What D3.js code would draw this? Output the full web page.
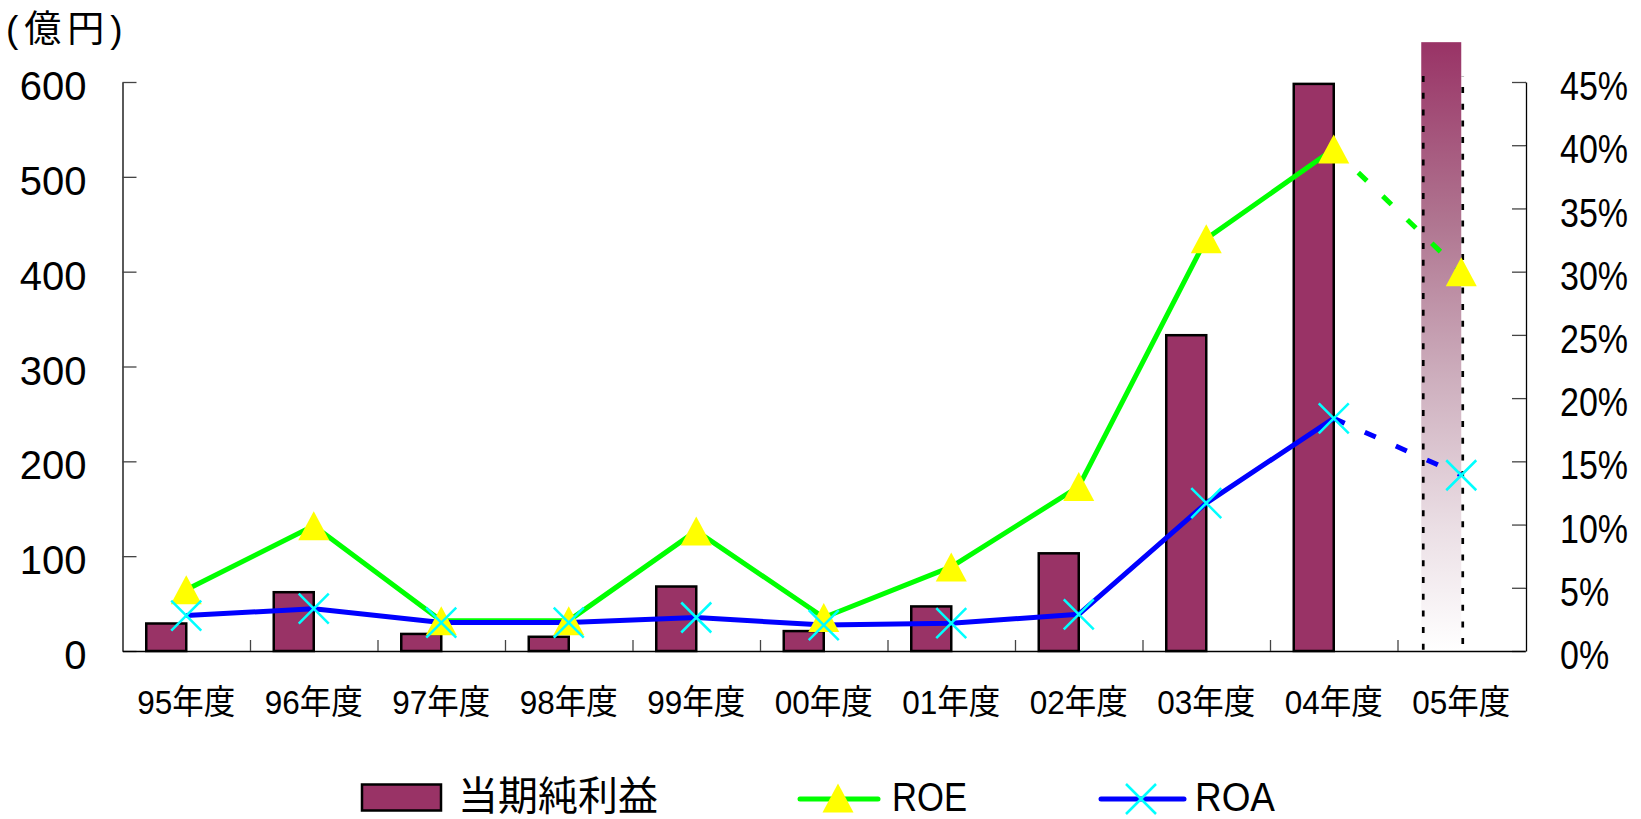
<!DOCTYPE html>
<html>
<head>
<meta charset="utf-8">
<script src="https://cdn.jsdelivr.net/npm/d3@7"></script>
<style>
html, body { margin: 0; padding: 0; background: #fff; }
svg { display: block; font-family: "Liberation Sans", "Noto Sans CJK JP", sans-serif; }
</style>
</head>
<body>
<div id="chart"></div>
<script>
// values
const years = ["95年度", "96年度", "97年度", "98年度", "99年度", "00年度", "01年度", "02年度", "03年度", "04年度", "05年度"];
const profit = [29, 62, 18, 15, 68, 21, 47, 103, 333, 598, 642];   // 億円 (05 = forecast)
const roe = [4.85, 9.9, 2.4, 2.4, 9.5, 2.65, 6.65, 13.0, 32.6, 39.7, 30.0]; // %
const roa = [2.8, 3.35, 2.25, 2.25, 2.65, 2.05, 2.2, 2.9, 11.7, 18.4, 13.9]; // %
const leftTicks = [0, 100, 200, 300, 400, 500, 600];
const rightTicks = [0, 5, 10, 15, 20, 25, 30, 35, 40, 45];
const forecastIndex = 10;

const width = 1641, height = 819;
const plot = { left: 122.5, right: 1525, top: 82, bottom: 651 };
const barColor = "#993366";

const svg = d3.select("#chart").append("svg")
    .attr("width", width)
    .attr("height", height);

const x = d3.scaleBand()
    .domain(years)
    .range([plot.left, plot.right]);

const xEdge = d3.scaleLinear()
    .domain([0, years.length])
    .range([plot.left, plot.right]);

const yL = d3.scaleLinear().domain([0, 600]).range([plot.bottom, plot.top]);
const yR = d3.scaleLinear().domain([0, 45]).range([plot.bottom, plot.top]);

const cx = d => x(d) + x.bandwidth() / 2;

// gradient for the forecast bar (fades to white)
const grad = svg.append("defs").append("linearGradient")
    .attr("id", "fc")
    .attr("gradientUnits", "userSpaceOnUse")
    .attr("x1", 0).attr("x2", 0)
    .attr("y1", yL(profit[forecastIndex])).attr("y2", yL(0));
[["0%", barColor], ["30%", "#b07691"], ["55%", "#cdaebd"], ["80%", "#ebdfe5"], ["100%", "#ffffff"]]
    .forEach(([o, c]) => grad.append("stop").attr("offset", o).attr("stop-color", c));

const rows = years.map((y, i) => ({ year: y, profit: profit[i], roe: roe[i], roa: roa[i], i }));

// bars
svg.selectAll("rect.bar")
    .data(rows)
    .enter()
    .append("rect")
    .attr("class", "bar")
    .attr("x", d => cx(d.year) - 40)
    .attr("y", d => yL(d.profit))
    .attr("width", 40)
    .attr("height", d => yL(0) - yL(d.profit))
    .attr("fill", d => d.i === forecastIndex ? "url(#fc)" : barColor)
    .attr("stroke", d => d.i === forecastIndex ? "none" : "#000")
    .attr("stroke-width", 2.5);

// dotted frame around forecast
const fx = cx(years[forecastIndex]);
[[fx - 38, 0], [fx + 1.5, 11]].forEach(([lx, off]) => {
    svg.append("line")
        .attr("x1", lx).attr("x2", lx)
        .attr("y1", 76).attr("y2", yL(0))
        .attr("stroke", "#000")
        .attr("stroke-width", 2.7)
        .attr("stroke-dasharray", "6,10.7")
        .attr("stroke-dashoffset", -off);
});

// axes
const axL = svg.append("g")
    .attr("transform", `translate(${plot.left},0)`)
    .call(d3.axisLeft(yL).tickValues(leftTicks).tickSizeInner(-14).tickSizeOuter(0).tickPadding(36));
axL.selectAll("text").attr("font-size", 40).attr("dy", "0.44em").attr("fill", "#000");

const axR = svg.append("g")
    .attr("transform", `translate(1526,0)`)
    .call(d3.axisRight(yR).tickValues(rightTicks).tickSizeInner(-14).tickSizeOuter(0).tickPadding(34)
        .tickFormat(d => d + "%"));
axR.selectAll("text").attr("font-size", 40).attr("dy", "0.44em").attr("fill", "#000")
    .each(function () {
        const w = this.getComputedTextLength();
        d3.select(this).attr("textLength", w * 0.85).attr("lengthAdjust", "spacingAndGlyphs");
    });

const axB = svg.append("g")
    .attr("transform", `translate(0,${plot.bottom})`)
    .call(d3.axisBottom(x).tickSize(0).tickSizeOuter(0));
axB.selectAll("text")
    .attr("y", 62.5).attr("dy", 0)
    .attr("font-size", 34)
    .attr("fill", "#000")
    .style("font-family", "'Liberation Sans Narrow', 'Liberation Sans', 'Noto Sans CJK JP', sans-serif")
    .attr("textLength", 98)
    .attr("lengthAdjust", "spacingAndGlyphs");

svg.append("g")
    .attr("transform", `translate(0,${plot.bottom})`)
    .call(d3.axisBottom(xEdge).tickValues(d3.range(1, years.length)).tickSize(-11).tickSizeOuter(0).tickFormat(""))
    .select(".domain").remove();

svg.selectAll(".domain").attr("stroke", "#000").attr("stroke-width", 1.3);
svg.selectAll(".tick line").attr("stroke", "#444").attr("stroke-width", 1.3);

// unit label
svg.append("text")
    .attr("x", 6).attr("y", 42)
    .attr("font-size", 37)
    .attr("letter-spacing", 6)
    .text("(億円)");

// lines: solid for actuals, dashed into the forecast year
function drawSeries(key, color) {
    const ln = d3.line().x(d => cx(d.year)).y(d => yR(d[key]));
    svg.append("path")
        .datum(rows.slice(0, forecastIndex))
        .attr("fill", "none")
        .attr("stroke", color)
        .attr("stroke-width", 5)
        .attr("stroke-linejoin", "round")
        .attr("d", ln);
    svg.append("path")
        .datum(rows.slice(forecastIndex - 1))
        .attr("fill", "none")
        .attr("stroke", color)
        .attr("stroke-width", 5)
        .attr("stroke-dasharray", "12,22")
        .attr("d", ln);
}
drawSeries("roe", "#00ff00");
drawSeries("roa", "#0000ff");

const triPath = "M0,-14.5L15.5,14.5L-15.5,14.5Z";
const xPath = "M-15,-15L15,15M15,-15L-15,15";

svg.selectAll("path.tri")
    .data(rows)
    .enter()
    .append("path")
    .attr("class", "tri")
    .attr("transform", d => `translate(${cx(d.year)},${yR(d.roe)})`)
    .attr("d", triPath)
    .attr("fill", "#ffff00");

svg.selectAll("path.cross")
    .data(rows)
    .enter()
    .append("path")
    .attr("class", "cross")
    .attr("transform", d => `translate(${cx(d.year)},${yR(d.roa)})`)
    .attr("d", xPath)
    .attr("fill", "none")
    .attr("stroke", "#00ffff")
    .attr("stroke-width", 2.5);

// legend
const lg = svg.append("g");
lg.append("rect")
    .attr("x", 362).attr("y", 784.5)
    .attr("width", 79).attr("height", 26)
    .attr("fill", barColor)
    .attr("stroke", "#000")
    .attr("stroke-width", 2.5);
lg.append("text")
    .attr("x", 458).attr("y", 810)
    .attr("font-size", 40)
    .text("当期純利益");

lg.append("line")
    .attr("x1", 800).attr("x2", 878).attr("y1", 799).attr("y2", 799)
    .attr("stroke", "#00ff00").attr("stroke-width", 5).attr("stroke-linecap", "round");
lg.append("path")
    .attr("transform", "translate(838,798)")
    .attr("d", triPath)
    .attr("fill", "#ffff00");
lg.append("text")
    .attr("x", 892).attr("y", 810.5)
    .attr("font-size", 40)
    .attr("textLength", 75).attr("lengthAdjust", "spacingAndGlyphs")
    .text("ROE");

lg.append("line")
    .attr("x1", 1101).attr("x2", 1184).attr("y1", 799).attr("y2", 799)
    .attr("stroke", "#0000ff").attr("stroke-width", 5).attr("stroke-linecap", "round");
lg.append("path")
    .attr("transform", "translate(1141,799)")
    .attr("d", xPath)
    .attr("fill", "none")
    .attr("stroke", "#00ffff")
    .attr("stroke-width", 2.5);
lg.append("text")
    .attr("x", 1195).attr("y", 810.5)
    .attr("font-size", 40)
    .attr("textLength", 80).attr("lengthAdjust", "spacingAndGlyphs")
    .text("ROA");
</script>
</body>
</html>
